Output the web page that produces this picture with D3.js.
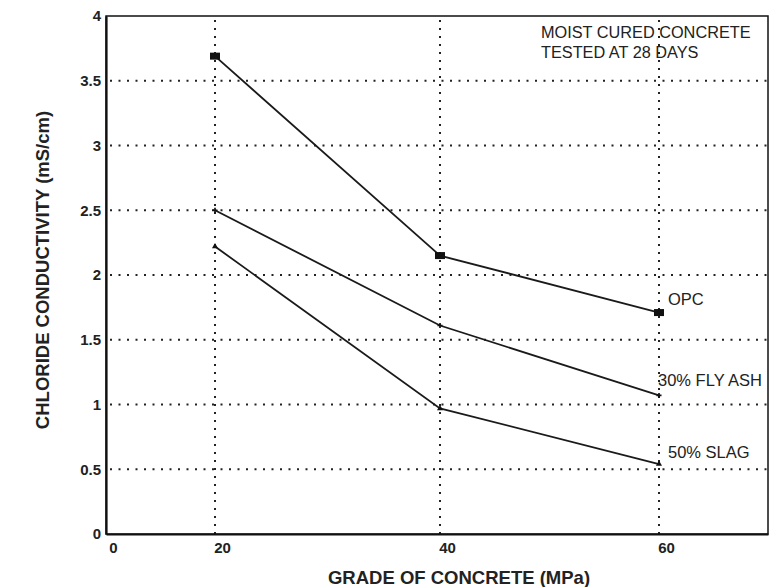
<!DOCTYPE html>
<html>
<head>
<meta charset="utf-8">
<script src="https://cdn.jsdelivr.net/npm/d3@7"></script>
<style>
  body { margin: 0; background: #fff; }
  svg { display: block; font-family: "Liberation Sans", Arial, sans-serif; }
</style>
</head>
<body>
<svg id="chart"></svg>
<script>
// grades of concrete (MPa)
const grades = [20, 40, 60];
const opc = [3.69, 2.15, 1.71];
const flyAsh = [2.50, 1.61, 1.07];
const slag = [2.22, 0.97, 0.54];
const seriesNames = ["OPC", "30% FLY ASH", "50% SLAG"];
const xTicks = [0, 20, 40, 60];
const yTicks = [0, 0.5, 1, 1.5, 2, 2.5, 3, 3.5, 4];

let svgWidth = 769, svgHeight = 587;
let plotLeft = 106, plotRight = 768, plotTop = 16, plotBottom = 534;

let svg = d3.select('#chart')
    .attr("width", svgWidth)
    .attr("height", svgHeight);

// the printed axis is not evenly spaced between 0 and 20
let x = d3.scaleLinear()
    .domain([0, 20, 40, 60, 70])
    .range([plotLeft, 215, 440, 659, plotRight]);

let y = d3.scaleLinear()
    .domain([0, 4])
    .range([plotBottom, plotTop]);

// dotted grid
svg.append("g")
    .selectAll("line")
    .data(yTicks.filter(d => d > 0 && d < 4))
    .join("line")
    .attr("x1", plotLeft + 4).attr("x2", plotRight)
    .attr("y1", d => y(d)).attr("y2", d => y(d))
    .attr("stroke", "#222")
    .attr("stroke-width", 2)
    .attr("stroke-dasharray", "2,6.5");

svg.append("g")
    .selectAll("line")
    .data(grades)
    .join("line")
    .attr("x1", d => x(d)).attr("x2", d => x(d))
    .attr("y1", plotTop + 4).attr("y2", plotBottom)
    .attr("stroke", "#222")
    .attr("stroke-width", 2)
    .attr("stroke-dasharray", "2,6");

// frame
svg.append("rect")
    .attr("x", plotLeft).attr("y", plotTop)
    .attr("width", plotRight - plotLeft).attr("height", plotBottom - plotTop)
    .attr("fill", "none")
    .attr("stroke", "#111")
    .attr("stroke-width", 1.5);

// axes
let yAxis = svg.append("g")
    .attr("transform", "translate(" + plotLeft + ",0)")
    .call(d3.axisLeft(y).tickValues(yTicks).tickSize(0).tickPadding(5)
        .tickFormat(d => String(d)));
yAxis.select(".domain").attr("stroke", "#111").attr("stroke-width", 2.2);
yAxis.selectAll("text")
    .attr("font-size", 15).attr("font-weight", "bold").attr("fill", "#222")
    .attr("font-family", "Liberation Sans, Arial, sans-serif");

let xAxis = svg.append("g")
    .attr("transform", "translate(0," + plotBottom + ")")
    .call(d3.axisBottom(x).tickValues(xTicks).tickSize(0).tickPadding(8));
xAxis.select(".domain").attr("stroke", "#111").attr("stroke-width", 2.2);
xAxis.selectAll("text")
    .attr("dx", 7)
    .attr("font-size", 15).attr("font-weight", "bold").attr("fill", "#222")
    .attr("font-family", "Liberation Sans, Arial, sans-serif");

// axis titles
svg.append("text")
    .attr("transform", "translate(49,270) rotate(-90)")
    .attr("text-anchor", "middle")
    .attr("font-size", 18.5).attr("font-weight", "bold").attr("fill", "#222")
    .text("CHLORIDE CONDUCTIVITY (mS/cm)");

svg.append("text")
    .attr("x", 459).attr("y", 584)
    .attr("text-anchor", "middle")
    .attr("font-size", 18.5).attr("font-weight", "bold").attr("fill", "#222")
    .text("GRADE OF CONCRETE (MPa)");

// lines
let line = d3.line()
    .x(d => x(d.grade))
    .y(d => y(d.value));

let allSeries = [opc, flyAsh, slag].map((vals, i) => ({
    name: seriesNames[i],
    points: grades.map((g, j) => ({ grade: g, value: vals[j] }))
}));

svg.append("g")
    .selectAll("path")
    .data(allSeries)
    .join("path")
    .attr("d", d => line(d.points))
    .attr("fill", "none")
    .attr("stroke", "#1a1a1a")
    .attr("stroke-width", 1.8);

// markers: squares for OPC, small crosses for fly ash, triangles for slag
svg.append("g")
    .selectAll("rect")
    .data(allSeries[0].points)
    .join("rect")
    .attr("x", d => x(d.grade) - 5).attr("y", d => y(d.value) - 3.5)
    .attr("width", 10).attr("height", 7)
    .attr("fill", "#111");

svg.append("g")
    .selectAll("path")
    .data(allSeries[1].points)
    .join("path")
    .attr("transform", d => "translate(" + x(d.grade) + "," + y(d.value) + ")")
    .attr("d", d3.symbol(d3.symbolCross, 14))
    .attr("fill", "#111");

svg.append("g")
    .selectAll("path")
    .data(allSeries[2].points)
    .join("path")
    .attr("transform", d => "translate(" + x(d.grade) + "," + y(d.value) + ")")
    .attr("d", d3.symbol(d3.symbolTriangle, 16))
    .attr("fill", "#111");

// series labels
let labelPos = [[668, 305], [658, 386], [668, 458]];
svg.append("g")
    .selectAll("text")
    .data(seriesNames)
    .join("text")
    .attr("x", (d, i) => labelPos[i][0])
    .attr("y", (d, i) => labelPos[i][1])
    .attr("font-size", 16.5).attr("fill", "#222")
    .text(d => d);

// note
svg.append("text")
    .attr("x", 541).attr("y", 38)
    .attr("font-size", 16.3).attr("fill", "#222")
    .text("MOIST CURED CONCRETE");
svg.append("text")
    .attr("x", 541).attr("y", 58)
    .attr("font-size", 16.3).attr("fill", "#222")
    .text("TESTED AT 28 DAYS");
</script>
</body>
</html>
